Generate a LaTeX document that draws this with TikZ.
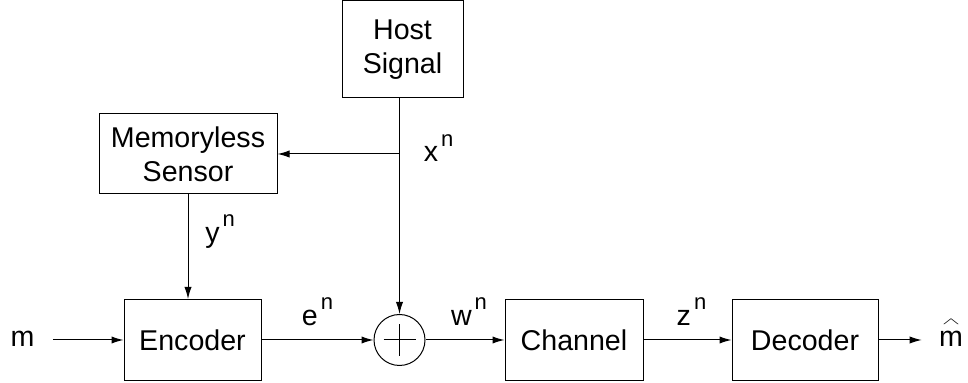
\documentclass[tikz,border=0pt]{standalone}
\usepackage{fontspec}
\setmainfont{Liberation Sans}
\usepackage{graphicx}
\usetikzlibrary{arrows.meta,positioning}
\newcommand{\supn}[1]{#1\hspace{1.5pt}\raisebox{7.8pt}{\fontsize{11}{13}\selectfont n}}
\newcommand{\hatm}{\ooalign{m\cr\hidewidth\raisebox{11pt}{\resizebox{9pt}{2.6pt}{$\wedge$}}\hidewidth\cr}}

\begin{document}
\begin{tikzpicture}[
  x=0.5pt,y=-0.5pt,
  font=\fontsize{14.3}{17}\selectfont,
  block/.style={draw,line width=0.5pt,minimum width=68.5pt,minimum height=40.5pt,
               inner sep=0pt,align=center},
  adder/.style={draw,circle,line width=0.5pt,minimum size=25.5pt,inner sep=0pt},
  io/.style={inner xsep=9pt,inner ysep=0pt,anchor=base},
  lab/.style={inner sep=0pt},
  arr/.style={-{Latex[length=6pt,width=3.6pt]},line width=0.5pt}
]
  \useasboundingbox (0,0) rectangle (968,383);
  % bottom chain
  \node[block] (enc) at (192.5,340) {Encoder};
  \node[adder,right=56pt of enc] (add) {};
  \node[block,right=39.5pt of add,minimum width=69pt] (chan) {Channel};
  \node[block,right=44pt of chan,minimum width=73pt] (dec) {Decoder};
  \node[io] (m) at (22.5,347) {m};
  \node[io,inner xsep=8.5pt] (mhat) at (951,347) {\hatm};
  % side signal path
  \node[block,minimum width=60.5pt,minimum height=48.5pt] (host) at (402.5,49.5) {Host\\Signal};
  \node[block,minimum width=89pt,minimum height=40pt] (sens) at (188,154) {Memoryless\\Sensor};
  \coordinate (tap) at (add.north |- sens.east);
  % plus sign
  \draw[line width=0.5pt] ([xshift=-8pt]add.center) -- ([xshift=8pt]add.center);
  \draw[line width=0.5pt] ([yshift=-8pt]add.center) -- ([yshift=8pt]add.center);
  % connectors
  \draw[arr] (m.east |- enc) -- (enc);
  \draw[arr] (enc) -- node[lab,above=7pt]{\supn{e}} (add);
  \draw[arr] (add) -- node[lab,above=7pt,xshift=2pt]{\supn{w}} (chan);
  \draw[arr] (chan) -- node[lab,above=7pt,xshift=2pt]{\supn{z}} (dec);
  \draw[arr] (dec) -- (dec -| mhat.west);
  \draw[arr] (host.south -| add) -- (add);
  \draw[arr] (tap) -- (sens);
  \draw[arr] (sens.south) -- (sens.south |- enc.north);
  \node[lab,anchor=base west] at ([xshift=12pt,yshift=-4pt]tap) {\supn{x}};
  \node[lab,anchor=base west] at ([xshift=8.5pt,yshift=-24pt]sens.south) {\supn{y}};
\end{tikzpicture}
\end{document}
